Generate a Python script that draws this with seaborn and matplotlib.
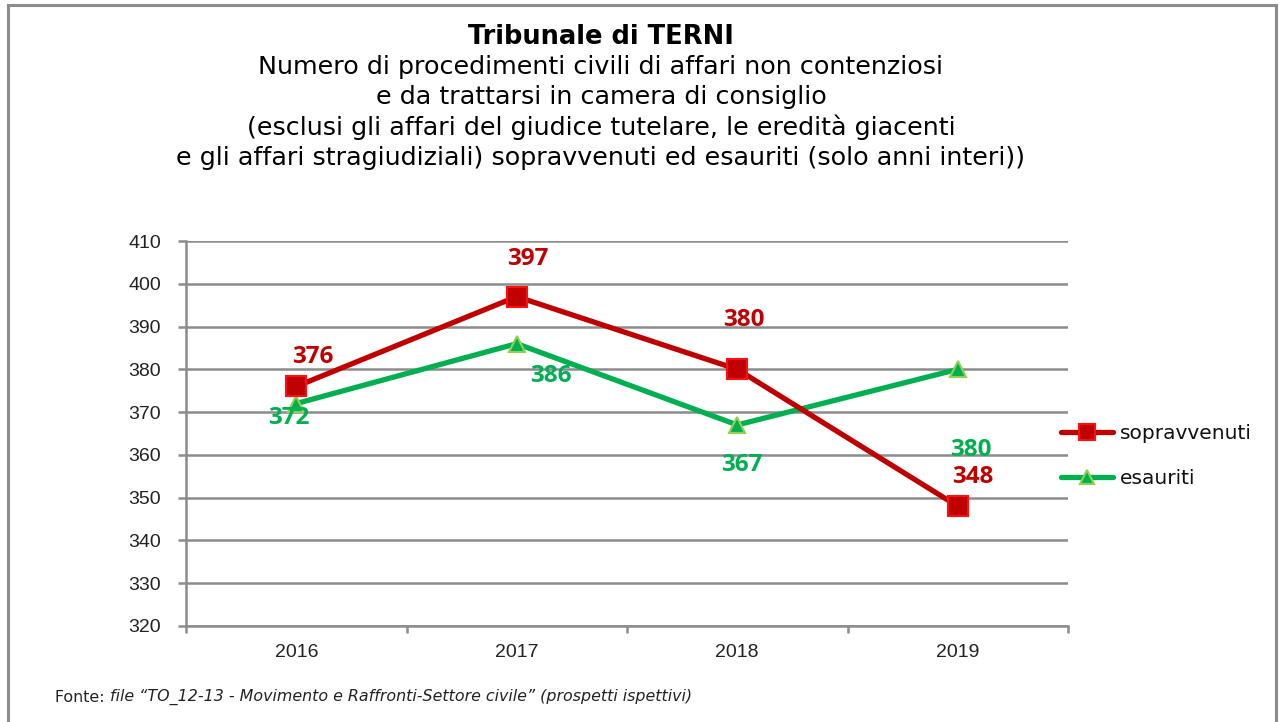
import matplotlib
matplotlib.use("Agg")
import matplotlib.pyplot as plt
import seaborn as sns
import pandas as pd
from matplotlib.patches import Rectangle

# data
years = ["2016", "2017", "2018", "2019"]
sopravvenuti = [376, 397, 380, 348]
esauriti = [372, 386, 367, 380]
y_ticks = list(range(320, 411, 10))

sns.set_theme(style="white")
plt.rcParams["font.family"] = ["DejaVu Sans"]

W, H = 1285, 722
fig = plt.figure(figsize=(W / 100, H / 100), dpi=100)
fig.patch.set_facecolor("white")


def px(x, y):
    return x / W, 1 - y / H


# chart frame
fig.patches.append(Rectangle(px(8, 740), (1276 - 8) / W, (740 - 5) / H,
                             transform=fig.transFigure, fill=False,
                             edgecolor="#8c8c8c", linewidth=2.2))

l, b = px(186, 626)
r, t = px(1068, 241)
ax = fig.add_axes([l, b, r - l, t - b])

df = pd.DataFrame({"anno": years, "sopravvenuti": sopravvenuti, "esauriti": esauriti})

RED, RED_EDGE = "#C00000", "#FF1010"
GREEN, GREEN_EDGE = "#00B050", "#92D050"

sns.lineplot(data=df, x="anno", y="sopravvenuti", ax=ax, color=RED, lw=3.8,
             marker="s", ms=14, mfc=RED, mec=RED_EDGE, mew=1.5,
             label="sopravvenuti", zorder=4)
sns.lineplot(data=df, x="anno", y="esauriti", ax=ax, color=GREEN, lw=3.8,
             marker="^", ms=12, mfc=GREEN, mec=GREEN_EDGE, mew=1.5,
             label="esauriti", zorder=3)

ax.set_xlim(-0.5, len(years) - 0.5)
ax.set_ylim(320, 410)
ax.set_xlabel("")
ax.set_ylabel("")

tick_font = dict(fontsize=14, fontfamily="Liberation Sans", color="#222222")
ax.set_yticks(y_ticks, labels=[str(v) for v in y_ticks], **tick_font)
ax.set_xticks(range(len(years)), labels=years, **tick_font)
ax.set_xticks([i - 0.5 for i in range(len(years) + 1)], minor=True)

ax.grid(axis="y", color="#8c8c8c", linewidth=1.8)
ax.grid(axis="x", visible=False)
for s in ["top", "right"]:
    ax.spines[s].set_visible(False)
for s in ["left", "bottom"]:
    ax.spines[s].set_color("#8c8c8c")
    ax.spines[s].set_linewidth(1.8)

ax.tick_params(axis="y", which="major", left=True, length=6, width=1.8,
               color="#8c8c8c", pad=12)
ax.tick_params(axis="x", which="major", bottom=False, pad=7)
ax.tick_params(axis="x", which="minor", bottom=True, length=5, width=1.8,
               color="#8c8c8c")

# data labels (offsets in pixels)
red_off = [(17, 29), (11, 38), (7, 49), (15, 29)]
green_off = [(-7, -14), (34, -32), (5, -40), (13, -81)]
lab_font = dict(fontsize=17.5, fontweight="bold", family=["Open Sans", "DejaVu Sans"])
for i, (v, o) in enumerate(zip(sopravvenuti, red_off)):
    ax.annotate(str(v), (i, v), xytext=(o[0] * 0.72, o[1] * 0.72),
                textcoords="offset points", ha="center", va="center",
                color=RED, **lab_font)
for i, (v, o) in enumerate(zip(esauriti, green_off)):
    ax.annotate(str(v), (i, v), xytext=(o[0] * 0.72, o[1] * 0.72),
                textcoords="offset points", ha="center", va="center",
                color=GREEN, **lab_font)

leg = ax.legend(loc="center left", bbox_to_anchor=px(1051, 456),
                bbox_transform=fig.transFigure, frameon=False,
                fontsize=14.5, handlelength=2.6, handletextpad=0.3,
                labelspacing=1.25, borderpad=0, markerscale=0.85)
for txt in leg.get_texts():
    txt.set_color("#111111")

# titles
cx = 601 / W
fig.text(cx, px(0, 37)[1], "Tribunale di TERNI", ha="center", va="center",
         fontsize=18.5, fontweight="bold", color="black")
sub = ["Numero di procedimenti civili di affari non contenziosi",
       "e da trattarsi in camera di consiglio",
       "(esclusi gli affari del giudice tutelare, le eredità giacenti",
       "e gli affari stragiudiziali) sopravvenuti ed esauriti (solo anni interi))"]
for k, line in enumerate(sub):
    fig.text(cx, px(0, 67 + 30.3 * k)[1], line, ha="center", va="center",
             fontsize=18.3, color="black")

# source note
t1 = fig.text(*px(55, 697), "Fonte: ", ha="left", va="center", fontsize=11.4,
              color="#222222")
fig.canvas.draw()
bb = t1.get_window_extent()
fig.text(bb.x1 / W, px(0, 697)[1],
         "file \u201cTO_12-13 - Movimento e Raffronti-Settore civile\u201d (prospetti ispettivi)",
         ha="left", va="center", fontsize=11.4, style="italic", color="#222222")

fig.savefig("out.png", dpi=100)
